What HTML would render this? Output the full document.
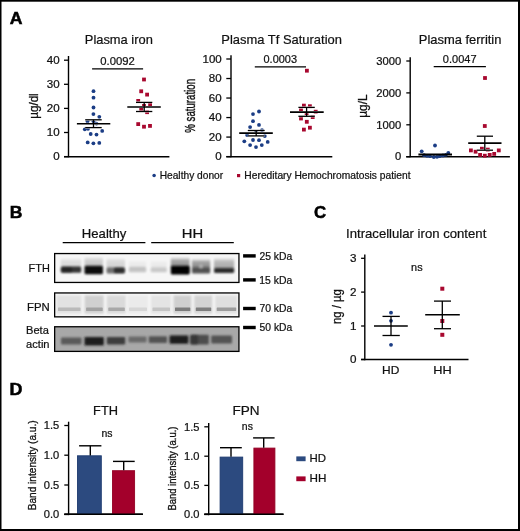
<!DOCTYPE html>
<html><head><meta charset="utf-8"><style>
html,body{margin:0;padding:0;background:#fff;}
svg{display:block;font-family:"Liberation Sans", sans-serif;will-change:transform;}
text{stroke:#111;stroke-width:0.22px;}
</style></head><body>
<svg width="520" height="531" viewBox="0 0 520 531">
<rect width="520" height="531" fill="#fff"/>
<rect x="0" y="0" width="520" height="1.7" fill="#000" />
<rect x="0" y="0" width="1.5" height="531" fill="#000" />
<rect x="518" y="0" width="2" height="531" fill="#000" />
<rect x="0" y="529" width="520" height="2" fill="#000" />
<text x="9.66" y="23.9" font-size="16.6" font-weight="700" fill="#000" textLength="12.72" lengthAdjust="spacingAndGlyphs" style="stroke:#000;stroke-width:0.5px">A</text>
<text x="9.66" y="217.8" font-size="16.6" font-weight="700" fill="#000" textLength="12.67" lengthAdjust="spacingAndGlyphs" style="stroke:#000;stroke-width:0.5px">B</text>
<text x="314.13" y="217.6" font-size="16.6" font-weight="700" fill="#000" textLength="12.13" lengthAdjust="spacingAndGlyphs" style="stroke:#000;stroke-width:0.5px">C</text>
<text x="9.64" y="395.2" font-size="16.6" font-weight="700" fill="#000" textLength="12.92" lengthAdjust="spacingAndGlyphs" style="stroke:#000;stroke-width:0.5px">D</text>
<text x="84.82" y="44.2" font-size="13.4" font-weight="400" fill="#111" textLength="68.02" lengthAdjust="spacingAndGlyphs">Plasma iron</text>
<line x1="68.5" y1="56" x2="68.5" y2="157.25" stroke="#000" stroke-width="1.4"/>
<line x1="64" y1="60.2" x2="68.5" y2="60.2" stroke="#000" stroke-width="1.3"/>
<line x1="64" y1="84.3" x2="68.5" y2="84.3" stroke="#000" stroke-width="1.3"/>
<line x1="64" y1="108.4" x2="68.5" y2="108.4" stroke="#000" stroke-width="1.3"/>
<line x1="64" y1="132.5" x2="68.5" y2="132.5" stroke="#000" stroke-width="1.3"/>
<line x1="64" y1="156.6" x2="68.5" y2="156.6" stroke="#000" stroke-width="1.3"/>
<text x="46.78" y="63.7" font-size="10.7" font-weight="400" fill="#111" textLength="12.85" lengthAdjust="spacingAndGlyphs">40</text>
<text x="46.78" y="87.8" font-size="10.7" font-weight="400" fill="#111" textLength="12.85" lengthAdjust="spacingAndGlyphs">30</text>
<text x="46.78" y="111.9" font-size="10.7" font-weight="400" fill="#111" textLength="12.85" lengthAdjust="spacingAndGlyphs">20</text>
<text x="46.78" y="136" font-size="10.7" font-weight="400" fill="#111" textLength="12.85" lengthAdjust="spacingAndGlyphs">10</text>
<text x="53.25" y="160.1" font-size="10.7" font-weight="400" fill="#111" textLength="6.43" lengthAdjust="spacingAndGlyphs">0</text>
<line x1="64" y1="156.7" x2="169.4" y2="156.7" stroke="#000" stroke-width="1.5"/>
<text transform="translate(37.9,118.71) rotate(-90)" x="0" y="0" font-size="13" font-weight="400" fill="#111" textLength="25.41" lengthAdjust="spacingAndGlyphs" style="stroke:#111;stroke-width:0.3px">µg/dl</text>
<text x="100.25" y="64.8" font-size="10.8" font-weight="400" fill="#111" textLength="34.5" lengthAdjust="spacingAndGlyphs">0.0092</text>
<line x1="92.1" y1="68.9" x2="143.1" y2="68.9" stroke="#000" stroke-width="1.3"/>
<circle cx="93.5" cy="91.2" r="1.9" fill="#1b3d85"/>
<circle cx="93.5" cy="97.7" r="1.9" fill="#1b3d85"/>
<circle cx="93.5" cy="107.5" r="1.9" fill="#1b3d85"/>
<circle cx="93.4" cy="114.1" r="1.9" fill="#1b3d85"/>
<circle cx="99.3" cy="116.8" r="1.9" fill="#1b3d85"/>
<circle cx="87.5" cy="121.5" r="1.9" fill="#1b3d85"/>
<circle cx="93.5" cy="121.5" r="1.9" fill="#1b3d85"/>
<circle cx="96.5" cy="123.6" r="1.9" fill="#1b3d85"/>
<circle cx="84.8" cy="129.3" r="1.9" fill="#1b3d85"/>
<circle cx="88" cy="128.8" r="1.9" fill="#1b3d85"/>
<circle cx="102.2" cy="130.9" r="1.9" fill="#1b3d85"/>
<circle cx="90.7" cy="134" r="1.9" fill="#1b3d85"/>
<circle cx="96.5" cy="134.6" r="1.9" fill="#1b3d85"/>
<circle cx="87.7" cy="142.4" r="1.9" fill="#1b3d85"/>
<circle cx="93.4" cy="143.3" r="1.9" fill="#1b3d85"/>
<circle cx="99.3" cy="142.9" r="1.9" fill="#1b3d85"/>
<line x1="76.9" y1="123.75" x2="110.3" y2="123.75" stroke="#fff" stroke-width="2.2"/>
<line x1="85.2" y1="119.8" x2="101.7" y2="119.8" stroke="#fff" stroke-width="1.9"/>
<line x1="85.2" y1="127.6" x2="101.7" y2="127.6" stroke="#fff" stroke-width="1.9"/>
<line x1="76.9" y1="123.75" x2="110.3" y2="123.75" stroke="#000" stroke-width="1.6"/>
<line x1="85.2" y1="119.8" x2="101.7" y2="119.8" stroke="#000" stroke-width="1.3"/>
<line x1="85.2" y1="127.6" x2="101.7" y2="127.6" stroke="#000" stroke-width="1.3"/>
<line x1="93.5" y1="119.8" x2="93.5" y2="127.6" stroke="#000" stroke-width="1.3"/>
<rect x="142.1" y="77.6" width="3.8" height="3.8" fill="#a8082f" />
<rect x="139.3" y="89.4" width="3.8" height="3.8" fill="#a8082f" />
<rect x="145.2" y="92.7" width="3.8" height="3.8" fill="#a8082f" />
<rect x="136.3" y="99" width="3.8" height="3.8" fill="#a8082f" />
<rect x="142.1" y="104" width="3.8" height="3.8" fill="#a8082f" />
<rect x="148.2" y="102.6" width="3.8" height="3.8" fill="#a8082f" />
<rect x="139.3" y="107.5" width="3.8" height="3.8" fill="#a8082f" />
<rect x="145.2" y="110.3" width="3.8" height="3.8" fill="#a8082f" />
<rect x="136.3" y="122.2" width="3.8" height="3.8" fill="#a8082f" />
<rect x="142.1" y="124.8" width="3.8" height="3.8" fill="#a8082f" />
<rect x="148.1" y="124" width="3.8" height="3.8" fill="#a8082f" />
<line x1="127.3" y1="107" x2="160.8" y2="107" stroke="#fff" stroke-width="2.2"/>
<line x1="136" y1="102.4" x2="152.3" y2="102.4" stroke="#fff" stroke-width="1.9"/>
<line x1="136" y1="111.5" x2="152.3" y2="111.5" stroke="#fff" stroke-width="1.9"/>
<line x1="127.3" y1="107" x2="160.8" y2="107" stroke="#000" stroke-width="1.6"/>
<line x1="136" y1="102.4" x2="152.3" y2="102.4" stroke="#000" stroke-width="1.3"/>
<line x1="136" y1="111.5" x2="152.3" y2="111.5" stroke="#000" stroke-width="1.3"/>
<line x1="144.2" y1="102.4" x2="144.2" y2="111.5" stroke="#000" stroke-width="1.3"/>
<text x="221.37" y="44.3" font-size="13.4" font-weight="400" fill="#111" textLength="120.57" lengthAdjust="spacingAndGlyphs">Plasma Tf Saturation</text>
<line x1="231" y1="55.2" x2="231" y2="157.25" stroke="#000" stroke-width="1.4"/>
<line x1="226.3" y1="59" x2="231" y2="59" stroke="#000" stroke-width="1.3"/>
<line x1="226.3" y1="78.52" x2="231" y2="78.52" stroke="#000" stroke-width="1.3"/>
<line x1="226.3" y1="98.04" x2="231" y2="98.04" stroke="#000" stroke-width="1.3"/>
<line x1="226.3" y1="117.56" x2="231" y2="117.56" stroke="#000" stroke-width="1.3"/>
<line x1="226.3" y1="137.08" x2="231" y2="137.08" stroke="#000" stroke-width="1.3"/>
<line x1="226.3" y1="156.6" x2="231" y2="156.6" stroke="#000" stroke-width="1.3"/>
<text x="202.48" y="62.6" font-size="10.4" font-weight="400" fill="#111" textLength="19.26" lengthAdjust="spacingAndGlyphs">100</text>
<text x="208.89" y="82.12" font-size="10.4" font-weight="400" fill="#111" textLength="12.84" lengthAdjust="spacingAndGlyphs">80</text>
<text x="208.89" y="101.64" font-size="10.4" font-weight="400" fill="#111" textLength="12.84" lengthAdjust="spacingAndGlyphs">60</text>
<text x="208.89" y="121.16" font-size="10.4" font-weight="400" fill="#111" textLength="12.84" lengthAdjust="spacingAndGlyphs">40</text>
<text x="208.89" y="140.68" font-size="10.4" font-weight="400" fill="#111" textLength="12.84" lengthAdjust="spacingAndGlyphs">20</text>
<text x="215.35" y="160.2" font-size="10.4" font-weight="400" fill="#111" textLength="6.42" lengthAdjust="spacingAndGlyphs">0</text>
<line x1="226.3" y1="156.7" x2="332.3" y2="156.7" stroke="#000" stroke-width="1.5"/>
<text transform="translate(194.7,132.64) rotate(-90)" x="0" y="0" font-size="13.8" font-weight="400" fill="#111" textLength="53.65" lengthAdjust="spacingAndGlyphs" style="stroke:#111;stroke-width:0.4px">% saturation</text>
<text x="263.56" y="62.8" font-size="10.8" font-weight="400" fill="#111" textLength="33.41" lengthAdjust="spacingAndGlyphs">0.0003</text>
<line x1="254.8" y1="66.8" x2="306" y2="66.8" stroke="#000" stroke-width="1.3"/>
<circle cx="259" cy="111.5" r="1.9" fill="#1b3d85"/>
<circle cx="253" cy="114.1" r="1.9" fill="#1b3d85"/>
<circle cx="253" cy="121.2" r="1.9" fill="#1b3d85"/>
<circle cx="259" cy="124.9" r="1.9" fill="#1b3d85"/>
<circle cx="250.1" cy="127.1" r="1.9" fill="#1b3d85"/>
<circle cx="262" cy="130.1" r="1.9" fill="#1b3d85"/>
<circle cx="256" cy="132" r="1.9" fill="#1b3d85"/>
<circle cx="247.1" cy="135.1" r="1.9" fill="#1b3d85"/>
<circle cx="264.8" cy="136.1" r="1.9" fill="#1b3d85"/>
<circle cx="253" cy="140" r="1.9" fill="#1b3d85"/>
<circle cx="259" cy="140.2" r="1.9" fill="#1b3d85"/>
<circle cx="244.3" cy="141.3" r="1.9" fill="#1b3d85"/>
<circle cx="267.7" cy="141.9" r="1.9" fill="#1b3d85"/>
<circle cx="250.1" cy="145.1" r="1.9" fill="#1b3d85"/>
<circle cx="261.8" cy="145.1" r="1.9" fill="#1b3d85"/>
<circle cx="256" cy="147.1" r="1.9" fill="#1b3d85"/>
<line x1="239.2" y1="133.1" x2="272.8" y2="133.1" stroke="#fff" stroke-width="2.2"/>
<line x1="247.8" y1="130.5" x2="264.7" y2="130.5" stroke="#fff" stroke-width="1.9"/>
<line x1="247.8" y1="135.9" x2="264.7" y2="135.9" stroke="#fff" stroke-width="1.9"/>
<line x1="239.2" y1="133.1" x2="272.8" y2="133.1" stroke="#000" stroke-width="1.6"/>
<line x1="247.8" y1="130.5" x2="264.7" y2="130.5" stroke="#000" stroke-width="1.3"/>
<line x1="247.8" y1="135.9" x2="264.7" y2="135.9" stroke="#000" stroke-width="1.3"/>
<line x1="256.2" y1="130.5" x2="256.2" y2="135.9" stroke="#000" stroke-width="1.3"/>
<rect x="305" y="68.8" width="3.8" height="3.8" fill="#a8082f" />
<rect x="302" y="103.7" width="3.8" height="3.8" fill="#a8082f" />
<rect x="308" y="104.3" width="3.8" height="3.8" fill="#a8082f" />
<rect x="299.1" y="108.4" width="3.8" height="3.8" fill="#a8082f" />
<rect x="313.8" y="109.8" width="3.8" height="3.8" fill="#a8082f" />
<rect x="304.7" y="111.3" width="3.8" height="3.8" fill="#a8082f" />
<rect x="310.8" y="115.2" width="3.8" height="3.8" fill="#a8082f" />
<rect x="299.1" y="116.6" width="3.8" height="3.8" fill="#a8082f" />
<rect x="304.9" y="119.9" width="3.8" height="3.8" fill="#a8082f" />
<rect x="308" y="125.8" width="3.8" height="3.8" fill="#a8082f" />
<rect x="302" y="127.7" width="3.8" height="3.8" fill="#a8082f" />
<line x1="290" y1="112.1" x2="323.7" y2="112.1" stroke="#fff" stroke-width="2.2"/>
<line x1="298.4" y1="107.4" x2="314.8" y2="107.4" stroke="#fff" stroke-width="1.9"/>
<line x1="298.4" y1="116.3" x2="314.8" y2="116.3" stroke="#fff" stroke-width="1.9"/>
<line x1="290" y1="112.1" x2="323.7" y2="112.1" stroke="#000" stroke-width="1.6"/>
<line x1="298.4" y1="107.4" x2="314.8" y2="107.4" stroke="#000" stroke-width="1.3"/>
<line x1="298.4" y1="116.3" x2="314.8" y2="116.3" stroke="#000" stroke-width="1.3"/>
<line x1="306.6" y1="107.4" x2="306.6" y2="116.3" stroke="#000" stroke-width="1.3"/>
<text x="418.76" y="44" font-size="13.4" font-weight="400" fill="#111" textLength="82.68" lengthAdjust="spacingAndGlyphs">Plasma ferritin</text>
<line x1="410.2" y1="57.2" x2="410.2" y2="157.35" stroke="#000" stroke-width="1.4"/>
<line x1="406.3" y1="61" x2="410.2" y2="61" stroke="#000" stroke-width="1.3"/>
<line x1="406.3" y1="92.9" x2="410.2" y2="92.9" stroke="#000" stroke-width="1.3"/>
<line x1="406.3" y1="124.8" x2="410.2" y2="124.8" stroke="#000" stroke-width="1.3"/>
<line x1="406.3" y1="156.7" x2="410.2" y2="156.7" stroke="#000" stroke-width="1.3"/>
<text x="376.36" y="64.7" font-size="10.4" font-weight="400" fill="#111" textLength="24.99" lengthAdjust="spacingAndGlyphs">3000</text>
<text x="376.36" y="96.6" font-size="10.4" font-weight="400" fill="#111" textLength="24.99" lengthAdjust="spacingAndGlyphs">2000</text>
<text x="376.36" y="128.5" font-size="10.4" font-weight="400" fill="#111" textLength="24.99" lengthAdjust="spacingAndGlyphs">1000</text>
<text x="395.12" y="160.4" font-size="10.4" font-weight="400" fill="#111" textLength="6.25" lengthAdjust="spacingAndGlyphs">0</text>
<line x1="406.2" y1="156.7" x2="509.9" y2="156.7" stroke="#000" stroke-width="1.5"/>
<text transform="translate(367.1,117.83) rotate(-90)" x="0" y="0" font-size="13.5" font-weight="400" fill="#111" textLength="23.41" lengthAdjust="spacingAndGlyphs" style="stroke:#111;stroke-width:0.3px">µg/L</text>
<text x="442.86" y="62.5" font-size="10.8" font-weight="400" fill="#111" textLength="33.68" lengthAdjust="spacingAndGlyphs">0.0047</text>
<line x1="433.7" y1="66.7" x2="485.9" y2="66.7" stroke="#000" stroke-width="1.3"/>
<circle cx="435" cy="145.5" r="1.9" fill="#1b3d85"/>
<circle cx="421.7" cy="151.3" r="1.9" fill="#1b3d85"/>
<circle cx="448.3" cy="152.8" r="1.9" fill="#1b3d85"/>
<circle cx="424.1" cy="155.2" r="1.9" fill="#1b3d85"/>
<circle cx="427" cy="155.8" r="1.9" fill="#1b3d85"/>
<circle cx="430" cy="156.2" r="1.9" fill="#1b3d85"/>
<circle cx="433.8" cy="157" r="1.9" fill="#1b3d85"/>
<circle cx="437" cy="156.8" r="1.9" fill="#1b3d85"/>
<circle cx="439.8" cy="156.2" r="1.9" fill="#1b3d85"/>
<circle cx="443" cy="155.5" r="1.9" fill="#1b3d85"/>
<circle cx="445.9" cy="154.8" r="1.9" fill="#1b3d85"/>
<line x1="418.4" y1="154.5" x2="452" y2="154.5" stroke="#000" stroke-width="1.8"/>
<rect x="483.1" y="76.1" width="3.8" height="3.8" fill="#a8082f" />
<rect x="482.9" y="124.1" width="3.8" height="3.8" fill="#a8082f" />
<rect x="469" y="148.5" width="3.8" height="3.8" fill="#a8082f" />
<rect x="473.7" y="149.8" width="3.8" height="3.8" fill="#a8082f" />
<rect x="480" y="146.8" width="3.8" height="3.8" fill="#a8082f" />
<rect x="485.9" y="147.7" width="3.8" height="3.8" fill="#a8082f" />
<rect x="496.9" y="148.5" width="3.8" height="3.8" fill="#a8082f" />
<rect x="478.2" y="153" width="3.8" height="3.8" fill="#a8082f" />
<rect x="482.9" y="153.8" width="3.8" height="3.8" fill="#a8082f" />
<rect x="487.8" y="153" width="3.8" height="3.8" fill="#a8082f" />
<rect x="492.3" y="152" width="3.8" height="3.8" fill="#a8082f" />
<line x1="468.2" y1="143.1" x2="501.5" y2="143.1" stroke="#fff" stroke-width="2.2"/>
<line x1="476.8" y1="136.2" x2="493" y2="136.2" stroke="#fff" stroke-width="1.9"/>
<line x1="476.8" y1="150.2" x2="493" y2="150.2" stroke="#fff" stroke-width="1.9"/>
<line x1="468.2" y1="143.1" x2="501.5" y2="143.1" stroke="#000" stroke-width="1.6"/>
<line x1="476.8" y1="136.2" x2="493" y2="136.2" stroke="#000" stroke-width="1.3"/>
<line x1="476.8" y1="150.2" x2="493" y2="150.2" stroke="#000" stroke-width="1.3"/>
<line x1="484.8" y1="136.2" x2="484.8" y2="150.2" stroke="#000" stroke-width="1.3"/>
<circle cx="154.1" cy="175.6" r="1.75" fill="#1b3d85"/>
<text x="159.68" y="178.6" font-size="10.2" font-weight="400" fill="#111" textLength="63.48" lengthAdjust="spacingAndGlyphs">Healthy donor</text>
<rect x="237" y="174" width="3.2" height="3.2" fill="#a8082f" />
<text x="244.38" y="178.6" font-size="10.2" font-weight="400" fill="#111" textLength="166.21" lengthAdjust="spacingAndGlyphs">Hereditary Hemochromatosis patient</text>
<text x="81.85" y="237.7" font-size="13" font-weight="400" fill="#111" textLength="44.42" lengthAdjust="spacingAndGlyphs">Healthy</text>
<text x="181.72" y="237.7" font-size="13" font-weight="400" fill="#111" textLength="21.36" lengthAdjust="spacingAndGlyphs">HH</text>
<line x1="62.7" y1="242.7" x2="145.4" y2="242.7" stroke="#000" stroke-width="1.3"/>
<line x1="151.2" y1="242.7" x2="233.8" y2="242.7" stroke="#000" stroke-width="1.3"/>
<text x="28.63" y="271.9" font-size="10.9" font-weight="400" fill="#111" textLength="21.19" lengthAdjust="spacingAndGlyphs">FTH</text>
<text x="26.99" y="311.1" font-size="11.1" font-weight="400" fill="#111" textLength="22.72" lengthAdjust="spacingAndGlyphs">FPN</text>
<text x="26.01" y="334.2" font-size="10.9" font-weight="400" fill="#111" textLength="22.81" lengthAdjust="spacingAndGlyphs">Beta</text>
<text x="26.1" y="347.6" font-size="10.9" font-weight="400" fill="#111" textLength="23.45" lengthAdjust="spacingAndGlyphs">actin</text>
<rect x="243.1" y="254.2" width="12.6" height="3.4" fill="#000" />
<text x="259.48" y="259.5" font-size="10" font-weight="400" fill="#111" textLength="32.7" lengthAdjust="spacingAndGlyphs">25 kDa</text>
<rect x="243.1" y="278.2" width="12.6" height="3.4" fill="#000" />
<text x="259.22" y="283.5" font-size="10" font-weight="400" fill="#111" textLength="32.96" lengthAdjust="spacingAndGlyphs">15 kDa</text>
<rect x="243.1" y="306.8" width="12.6" height="3.4" fill="#000" />
<text x="259.48" y="312.1" font-size="10" font-weight="400" fill="#111" textLength="32.7" lengthAdjust="spacingAndGlyphs">70 kDa</text>
<rect x="243.1" y="325.8" width="12.6" height="3.4" fill="#000" />
<text x="259.59" y="331.1" font-size="10" font-weight="400" fill="#111" textLength="32.6" lengthAdjust="spacingAndGlyphs">50 kDa</text>
<defs><filter id="bl" x="-30%" y="-80%" width="160%" height="260%"><feGaussianBlur stdDeviation="1.0"/></filter><filter id="bl2" x="-30%" y="-80%" width="160%" height="260%"><feGaussianBlur stdDeviation="1.8"/></filter><filter id="bl3" x="-30%" y="-80%" width="160%" height="260%"><feGaussianBlur stdDeviation="0.7"/></filter><linearGradient id="hg" x1="0" y1="0" x2="0" y2="1"><stop offset="0" stop-color="#000" stop-opacity="0"/><stop offset="0.35" stop-color="#000" stop-opacity="0.75"/><stop offset="1" stop-color="#000" stop-opacity="1"/></linearGradient><clipPath id="c1"><rect x="54.6" y="254" width="184.4" height="28"/></clipPath><clipPath id="c2"><rect x="54.6" y="293.2" width="184.4" height="23.4"/></clipPath><clipPath id="c3"><rect x="54.6" y="327" width="184.4" height="24.4"/></clipPath></defs>
<rect x="54.6" y="254" width="184.4" height="28" fill="#f6f6f6" />
<g clip-path="url(#c1)">
<rect x="60.8" y="257.5" width="20.4" height="10.5" rx="1" fill="url(#hg)" opacity="0.12" filter="url(#bl)"/>
<rect x="84.5" y="256.5" width="18.5" height="10.5" rx="1" fill="url(#hg)" opacity="0.2" filter="url(#bl)"/>
<rect x="106.5" y="257.5" width="18.5" height="11" rx="1" fill="url(#hg)" opacity="0.15" filter="url(#bl)"/>
<rect x="128.8" y="260" width="17.4" height="8" rx="1" fill="url(#hg)" opacity="0.05" filter="url(#bl)"/>
<rect x="150.6" y="260" width="16.3" height="8" rx="1" fill="url(#hg)" opacity="0.05" filter="url(#bl)"/>
<rect x="170.8" y="257" width="18.8" height="10" rx="1" fill="url(#hg)" opacity="0.42" filter="url(#bl)"/>
<rect x="191.9" y="258.5" width="18.3" height="10" rx="1" fill="url(#hg)" opacity="0.45" filter="url(#bl)"/>
<rect x="214" y="257.5" width="20.2" height="11.5" rx="1" fill="url(#hg)" opacity="0.32" filter="url(#bl)"/>
<rect x="60.8" y="266.6" width="20.4" height="6.2" rx="1.5" fill="#000" opacity="0.78" filter="url(#bl)"/>
<rect x="84.5" y="265.8" width="18.5" height="8.5" rx="1.5" fill="#000" opacity="0.95" filter="url(#bl)"/>
<rect x="106.5" y="267.4" width="18.5" height="6.1" rx="1.5" fill="#000" opacity="0.55" filter="url(#bl)"/>
<rect x="128.8" y="267" width="17.4" height="5.2" rx="1.5" fill="#000" opacity="0.2" filter="url(#bl)"/>
<rect x="150.6" y="267.4" width="16.3" height="4.8" rx="1.5" fill="#000" opacity="0.18" filter="url(#bl)"/>
<rect x="170.8" y="265.7" width="18.8" height="8.7" rx="1.5" fill="#000" opacity="1.0" filter="url(#bl)"/>
<rect x="191.9" y="267.5" width="18.3" height="6.1" rx="1.5" fill="#000" opacity="0.66" filter="url(#bl)"/>
<rect x="214" y="268" width="20.2" height="4.9" rx="1.5" fill="#000" opacity="0.82" filter="url(#bl)"/>
<rect x="61.5" y="267.5" width="10.5" height="5" rx="1.5" fill="#000" opacity="0.35" filter="url(#bl)"/>
<rect x="114" y="267.8" width="10.5" height="5.2" rx="1.5" fill="#000" opacity="0.6" filter="url(#bl)"/>
<rect x="184" y="267" width="6" height="6" rx="1.5" fill="#000" opacity="0.3" filter="url(#bl)"/>
<circle cx="201" cy="266.8" r="2.2" fill="#fff" opacity="0.35" filter="url(#bl)"/>
</g>
<rect x="54.65" y="253.55" width="184.3" height="28.9" fill="none" stroke="#000" stroke-width="1.3"/>
<rect x="54.6" y="293.2" width="184.4" height="23.4" fill="#f5f5f5" />
<g clip-path="url(#c2)">
<rect x="56.5" y="295.4" width="25" height="18.2" rx="0" fill="#e2e2e2" opacity="1" filter="url(#bl)"/>
<rect x="84.6" y="295.4" width="19.1" height="18.2" rx="0" fill="#d0d0d0" opacity="1" filter="url(#bl)"/>
<rect x="106.8" y="295.4" width="19" height="18.2" rx="0" fill="#dadada" opacity="1" filter="url(#bl)"/>
<rect x="127.5" y="295.4" width="20.5" height="18.2" rx="0" fill="#ebebeb" opacity="1" filter="url(#bl)"/>
<rect x="151" y="295.4" width="20" height="18.2" rx="0" fill="#e4e4e4" opacity="1" filter="url(#bl)"/>
<rect x="173.5" y="295.4" width="17.8" height="18.2" rx="0" fill="#cfcfcf" opacity="1" filter="url(#bl)"/>
<rect x="194.3" y="295.4" width="17.9" height="18.2" rx="0" fill="#d3d3d3" opacity="1" filter="url(#bl)"/>
<rect x="215.2" y="295.4" width="22" height="18.2" rx="0" fill="#dfdfdf" opacity="1" filter="url(#bl)"/>
<rect x="58" y="307.4" width="22.5" height="3.5" rx="0.5" fill="#bababa" opacity="1" filter="url(#bl3)"/>
<rect x="86.1" y="307.4" width="16.6" height="3.5" rx="0.5" fill="#a2a2a2" opacity="1" filter="url(#bl3)"/>
<rect x="108.3" y="307.4" width="16.5" height="3.5" rx="0.5" fill="#a8a8a8" opacity="1" filter="url(#bl3)"/>
<rect x="129" y="307.4" width="18" height="3.5" rx="0.5" fill="#d6d6d6" opacity="1" filter="url(#bl3)"/>
<rect x="152.5" y="307.4" width="17.5" height="3.5" rx="0.5" fill="#c4c4c4" opacity="1" filter="url(#bl3)"/>
<rect x="175" y="307.4" width="15.3" height="3.5" rx="0.5" fill="#7c7c7c" opacity="1" filter="url(#bl3)"/>
<rect x="195.8" y="307.4" width="15.4" height="3.5" rx="0.5" fill="#7e7e7e" opacity="1" filter="url(#bl3)"/>
<rect x="216.7" y="307.4" width="19.5" height="3.5" rx="0.5" fill="#9c9c9c" opacity="1" filter="url(#bl3)"/>
</g>
<rect x="54.65" y="292.95" width="184.3" height="23.9" fill="none" stroke="#000" stroke-width="1.3"/>
<rect x="54.6" y="327" width="184.4" height="24.4" fill="#a8a8a8" />
<g clip-path="url(#c3)">
<rect x="61" y="337.6" width="20.5" height="6.8" rx="1" fill="#5a5a5a" opacity="1" filter="url(#bl)"/>
<rect x="84.5" y="337" width="19.3" height="8.5" rx="1" fill="#1e1e1e" opacity="1" filter="url(#bl)"/>
<rect x="106.8" y="337" width="18.4" height="7.4" rx="1" fill="#3e3e3e" opacity="1" filter="url(#bl)"/>
<rect x="128.5" y="336.5" width="18" height="6" rx="1" fill="#6a6a6a" opacity="1" filter="url(#bl)"/>
<rect x="148.8" y="336.3" width="18.2" height="6.7" rx="1" fill="#525252" opacity="1" filter="url(#bl)"/>
<rect x="169.6" y="335.6" width="18.8" height="8.2" rx="1" fill="#1c1c1c" opacity="1" filter="url(#bl)"/>
<rect x="190.2" y="334.8" width="18.6" height="9.8" rx="1" fill="#4e4e4e" opacity="1" filter="url(#bl)"/>
<rect x="211.2" y="335.6" width="20.8" height="7.8" rx="1" fill="#525252" opacity="1" filter="url(#bl)"/>
<rect x="190.5" y="335" width="7.5" height="9.5" rx="2" fill="#222" opacity="0.5" filter="url(#bl)"/>
</g>
<rect x="54.65" y="326.75" width="184.3" height="24.65" fill="none" stroke="#000" stroke-width="1.3"/>
<text x="346.02" y="237.6" font-size="13.4" font-weight="400" fill="#111" textLength="140.28" lengthAdjust="spacingAndGlyphs">Intracellular iron content</text>
<line x1="364.8" y1="254.4" x2="364.8" y2="360.15" stroke="#000" stroke-width="1.4"/>
<line x1="361.1" y1="258.3" x2="364.8" y2="258.3" stroke="#000" stroke-width="1.3"/>
<line x1="361.1" y1="292.1" x2="364.8" y2="292.1" stroke="#000" stroke-width="1.3"/>
<line x1="361.1" y1="326" x2="364.8" y2="326" stroke="#000" stroke-width="1.3"/>
<line x1="361.1" y1="359.5" x2="364.8" y2="359.5" stroke="#000" stroke-width="1.3"/>
<text x="349.96" y="261.9" font-size="10.4" font-weight="400" fill="#111" textLength="6.48" lengthAdjust="spacingAndGlyphs">3</text>
<text x="350.02" y="295.7" font-size="10.4" font-weight="400" fill="#111" textLength="6.48" lengthAdjust="spacingAndGlyphs">2</text>
<text x="350.02" y="329.6" font-size="10.4" font-weight="400" fill="#111" textLength="6.48" lengthAdjust="spacingAndGlyphs">1</text>
<text x="349.9" y="363.1" font-size="10.4" font-weight="400" fill="#111" textLength="6.48" lengthAdjust="spacingAndGlyphs">0</text>
<line x1="361.1" y1="359.4" x2="468.5" y2="359.4" stroke="#000" stroke-width="1.5"/>
<text transform="translate(341.3,324.04) rotate(-90)" x="0" y="0" font-size="13.3" font-weight="400" fill="#111" textLength="34.85" lengthAdjust="spacingAndGlyphs" style="stroke:#111;stroke-width:0.3px">ng / µg</text>
<text x="411.09" y="270.7" font-size="10.6" font-weight="400" fill="#111" textLength="11.5" lengthAdjust="spacingAndGlyphs">ns</text>
<circle cx="391" cy="312.7" r="1.9" fill="#1b3d85"/>
<circle cx="391" cy="320.8" r="1.9" fill="#1b3d85"/>
<circle cx="391" cy="344.8" r="1.9" fill="#1b3d85"/>
<line x1="374" y1="326" x2="407.8" y2="326" stroke="#fff" stroke-width="2.2"/>
<line x1="382.5" y1="316.4" x2="399.8" y2="316.4" stroke="#fff" stroke-width="1.9"/>
<line x1="382.5" y1="335.5" x2="399.8" y2="335.5" stroke="#fff" stroke-width="1.9"/>
<line x1="374" y1="326" x2="407.8" y2="326" stroke="#000" stroke-width="1.6"/>
<line x1="382.5" y1="316.4" x2="399.8" y2="316.4" stroke="#000" stroke-width="1.3"/>
<line x1="382.5" y1="335.5" x2="399.8" y2="335.5" stroke="#000" stroke-width="1.3"/>
<line x1="391" y1="316.4" x2="391" y2="335.5" stroke="#000" stroke-width="1.3"/>
<rect x="440.3" y="286.7" width="4" height="4" fill="#a8082f" />
<rect x="440.3" y="319" width="4" height="4" fill="#a8082f" />
<rect x="440.3" y="332.8" width="4" height="4" fill="#a8082f" />
<line x1="425.2" y1="314.8" x2="459.8" y2="314.8" stroke="#fff" stroke-width="2.2"/>
<line x1="434" y1="301.1" x2="451" y2="301.1" stroke="#fff" stroke-width="1.9"/>
<line x1="434" y1="328.7" x2="451" y2="328.7" stroke="#fff" stroke-width="1.9"/>
<line x1="425.2" y1="314.8" x2="459.8" y2="314.8" stroke="#000" stroke-width="1.6"/>
<line x1="434" y1="301.1" x2="451" y2="301.1" stroke="#000" stroke-width="1.3"/>
<line x1="434" y1="328.7" x2="451" y2="328.7" stroke="#000" stroke-width="1.3"/>
<line x1="442.3" y1="301.1" x2="442.3" y2="328.7" stroke="#000" stroke-width="1.3"/>
<text x="382.14" y="373.5" font-size="11.2" font-weight="400" fill="#111" textLength="17.24" lengthAdjust="spacingAndGlyphs">HD</text>
<text x="433.38" y="373.6" font-size="11.2" font-weight="400" fill="#111" textLength="18.43" lengthAdjust="spacingAndGlyphs">HH</text>
<text x="93.08" y="414.8" font-size="13" font-weight="400" fill="#111" textLength="24.9" lengthAdjust="spacingAndGlyphs">FTH</text>
<text x="101.42" y="436.8" font-size="10.3" font-weight="400" fill="#111" textLength="11.06" lengthAdjust="spacingAndGlyphs">ns</text>
<line x1="68.6" y1="421.7" x2="68.6" y2="515.15" stroke="#000" stroke-width="1.4"/>
<line x1="64.3" y1="425.5" x2="68.6" y2="425.5" stroke="#000" stroke-width="1.3"/>
<line x1="64.3" y1="455.2" x2="68.6" y2="455.2" stroke="#000" stroke-width="1.3"/>
<line x1="64.3" y1="485" x2="68.6" y2="485" stroke="#000" stroke-width="1.3"/>
<line x1="64.3" y1="514.5" x2="68.6" y2="514.5" stroke="#000" stroke-width="1.3"/>
<text x="43.79" y="429.35" font-size="10.9" font-weight="400" fill="#111" textLength="15.46" lengthAdjust="spacingAndGlyphs">1.5</text>
<text x="43.79" y="459.05" font-size="10.9" font-weight="400" fill="#111" textLength="15.46" lengthAdjust="spacingAndGlyphs">1.0</text>
<text x="43.79" y="488.85" font-size="10.9" font-weight="400" fill="#111" textLength="15.46" lengthAdjust="spacingAndGlyphs">0.5</text>
<text x="43.79" y="518.35" font-size="10.9" font-weight="400" fill="#111" textLength="15.46" lengthAdjust="spacingAndGlyphs">0.0</text>
<line x1="64.3" y1="514.3" x2="142.9" y2="514.3" stroke="#000" stroke-width="1.5"/>
<text transform="translate(35.8,510.31) rotate(-90)" x="0" y="0" font-size="11.2" font-weight="400" fill="#111" textLength="89.95" lengthAdjust="spacingAndGlyphs" style="stroke:#111;stroke-width:0.3px">Band intensity (a.u.)</text>
<rect x="77.5" y="455.8" width="23.8" height="58.1" fill="#2c4a7f" stroke="#1d3a70" stroke-width="0.9"/>
<rect x="112.5" y="470.7" width="22.1" height="43.2" fill="#a3002b" stroke="#930024" stroke-width="0.9"/>
<line x1="79.1" y1="445.8" x2="101.4" y2="445.8" stroke="#000" stroke-width="1.4"/>
<line x1="90.3" y1="445.8" x2="90.3" y2="455.4" stroke="#000" stroke-width="1.4"/>
<line x1="113" y1="461.4" x2="134.7" y2="461.4" stroke="#000" stroke-width="1.4"/>
<line x1="123.7" y1="461.4" x2="123.7" y2="470.3" stroke="#000" stroke-width="1.4"/>
<line x1="64.3" y1="514.3" x2="142.9" y2="514.3" stroke="#000" stroke-width="1.5"/>
<text x="232.52" y="414.8" font-size="13" font-weight="400" fill="#111" textLength="27.07" lengthAdjust="spacingAndGlyphs">FPN</text>
<text x="241.82" y="429.6" font-size="10.3" font-weight="400" fill="#111" textLength="11.06" lengthAdjust="spacingAndGlyphs">ns</text>
<line x1="208.7" y1="423.1" x2="208.7" y2="515.15" stroke="#000" stroke-width="1.4"/>
<line x1="204.3" y1="426.8" x2="208.7" y2="426.8" stroke="#000" stroke-width="1.3"/>
<line x1="204.3" y1="456.2" x2="208.7" y2="456.2" stroke="#000" stroke-width="1.3"/>
<line x1="204.3" y1="485.4" x2="208.7" y2="485.4" stroke="#000" stroke-width="1.3"/>
<line x1="204.3" y1="514.5" x2="208.7" y2="514.5" stroke="#000" stroke-width="1.3"/>
<text x="183.99" y="430.65" font-size="10.9" font-weight="400" fill="#111" textLength="15.46" lengthAdjust="spacingAndGlyphs">1.5</text>
<text x="183.99" y="460.05" font-size="10.9" font-weight="400" fill="#111" textLength="15.46" lengthAdjust="spacingAndGlyphs">1.0</text>
<text x="183.99" y="489.25" font-size="10.9" font-weight="400" fill="#111" textLength="15.46" lengthAdjust="spacingAndGlyphs">0.5</text>
<text x="183.99" y="518.35" font-size="10.9" font-weight="400" fill="#111" textLength="15.46" lengthAdjust="spacingAndGlyphs">0.0</text>
<line x1="204.3" y1="514.3" x2="283.5" y2="514.3" stroke="#000" stroke-width="1.5"/>
<text transform="translate(176.2,510.56) rotate(-90)" x="0" y="0" font-size="11.2" font-weight="400" fill="#111" textLength="83.96" lengthAdjust="spacingAndGlyphs" style="stroke:#111;stroke-width:0.3px">Band intensity (a.u.)</text>
<rect x="220.1" y="457.1" width="22.6" height="57" fill="#2c4a7f" stroke="#1d3a70" stroke-width="0.9"/>
<rect x="253.9" y="448.1" width="21" height="66" fill="#a3002b" stroke="#930024" stroke-width="0.9"/>
<line x1="220" y1="447.7" x2="241.8" y2="447.7" stroke="#000" stroke-width="1.4"/>
<line x1="231" y1="447.7" x2="231" y2="456.7" stroke="#000" stroke-width="1.4"/>
<line x1="253.1" y1="437.9" x2="274.6" y2="437.9" stroke="#000" stroke-width="1.4"/>
<line x1="263.7" y1="437.9" x2="263.7" y2="447.7" stroke="#000" stroke-width="1.4"/>
<line x1="204.3" y1="514.3" x2="283.5" y2="514.3" stroke="#000" stroke-width="1.5"/>
<rect x="296.3" y="456.4" width="9.3" height="4.8" fill="#2c4a7f" />
<rect x="296.3" y="476.4" width="9.3" height="4.8" fill="#a3002b" />
<text x="309.59" y="462.1" font-size="10.4" font-weight="400" fill="#111" textLength="16.48" lengthAdjust="spacingAndGlyphs">HD</text>
<text x="309.57" y="481.9" font-size="10.4" font-weight="400" fill="#111" textLength="16.86" lengthAdjust="spacingAndGlyphs">HH</text>
</svg>
</body></html>
